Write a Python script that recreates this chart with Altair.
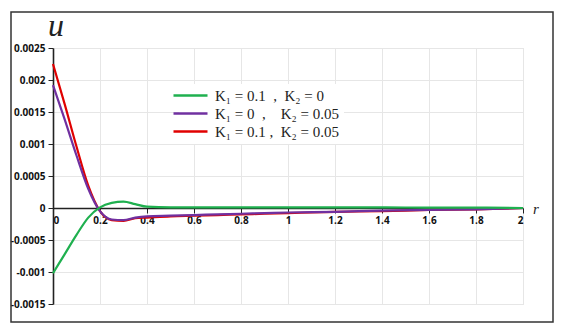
import altair as alt
import pandas as pd

r_vals = [0, 0.05, 0.1, 0.15, 0.2, 0.25, 0.3, 0.35, 0.4, 0.5, 0.6, 0.7, 0.8, 0.9, 1.0, 1.2, 1.4, 1.6, 1.8, 2.0]
u_green = [-0.00102, -0.00072, -0.00042, -0.00015, 0.00001, 0.00008, 0.0001, 0.00006, 0.00002, 0.00001,
           0.00001, 0.00001, 0.00001, 0.00001, 0.00001, 0.00001, 0.00001, 0.000005, 0.000005, 0.0]
u_purple = [0.00192, 0.00138, 0.00082, 0.0003, -0.00005, -0.00018, -0.00019, -0.00015, -0.00013, -0.00012,
            -0.00011, -0.0001, -0.00009, -0.00008, -0.00007, -0.00006, -0.00004, -0.00003, -0.00002, 0.0]
u_red = [0.00225, 0.00162, 0.00096, 0.00035, -0.00005, -0.00019, -0.0002, -0.00016, -0.00015, -0.00013,
         -0.00012, -0.00011, -0.0001, -0.00009, -0.00008, -0.00006, -0.00005, -0.00003, -0.00002, 0.0]

NB = "\u00a0"
labels = [f"K\u2081{NB}={NB}0.1{NB}{NB},{NB}{NB}K\u2082{NB}={NB}0",
          f"K\u2081{NB}={NB}0{NB}{NB},{NB}{NB}{NB}{NB}K\u2082{NB}={NB}0.05",
          f"{NB}K\u2081{NB}={NB}0.1{NB},{NB}{NB}K\u2082{NB}={NB}0.05"]
colors = ["#1fb04f", "#7030a0", "#e00000"]
x_ticks = [0, 0.2, 0.4, 0.6, 0.8, 1, 1.2, 1.4, 1.6, 1.8, 2]
y_ticks = [-0.0015, -0.001, -0.0005, 0, 0.0005, 0.001, 0.0015, 0.002, 0.0025]

rows = []
for lab, ys, order in [(labels[2], u_red, 0), (labels[1], u_purple, 1), (labels[0], u_green, 2)]:
    for rv, uv in zip(r_vals, ys):
        rows.append({"r": rv, "u": uv, "series": lab, "ord": order})
df = pd.DataFrame(rows)

W, H = 470, 256
label_font = "Open Sans"

lines = alt.Chart(df).mark_line(interpolate="monotone", strokeWidth=2.2).encode(
    x=alt.X("r:Q", scale=alt.Scale(domain=[0, 2], nice=False),
            axis=alt.Axis(values=x_ticks, title=None, offset=-96, labelFont=label_font,
                          labelFontWeight="bold", labelFontSize=10, labelColor="#111",
                          domainColor="#222", domainWidth=1.6, tickColor="#222", tickSize=5,
                          gridColor="#e6e6e6", labelPadding=2,
                          labelExpr="replace(format(datum.value, '~g'), '\u2212', '-')")),
    y=alt.Y("u:Q", scale=alt.Scale(domain=[-0.0015, 0.0025], nice=False),
            axis=alt.Axis(values=y_ticks, title=None, labelFont=label_font,
                          labelFontWeight="bold", labelFontSize=10, labelColor="#111",
                          domainColor="#222", domainWidth=1.6, tickColor="#222", tickSize=5,
                          gridColor="#e6e6e6", labelPadding=3,
                          labelExpr="replace(format(datum.value, '~g'), '\u2212', '-')")),
    color=alt.Color("series:N", scale=alt.Scale(domain=labels, range=colors),
                    legend=alt.Legend(title=None, orient="none", legendX=126, legendY=36,
                                      symbolType="M-3.4,0H3.4", symbolSize=100, symbolStrokeWidth=2.5,
                                      labelFont="Liberation Serif", labelFontSize=15,
                                      labelColor="#222", fillColor="white", padding=4,
                                      rowPadding=2, labelOffset=17, symbolOffset=0)),
    order=alt.Order("ord:Q"),
    detail="series:N",
)

frame = alt.Chart(pd.DataFrame({"a": [0]})).mark_rect(
    fill=None, stroke="#333", strokeWidth=1.5, clip=False
).encode(x=alt.value(-42), x2=alt.value(500), y=alt.value(-36), y2=alt.value(274))

u_title = alt.Chart(pd.DataFrame({"t": ["u"]})).mark_text(
    font="Liberation Serif", fontStyle="italic", fontSize=32, color="#222", baseline="alphabetic",
    align="center", clip=False
).encode(text="t:N", x=alt.value(3), y=alt.value(-12))

r_title = alt.Chart(pd.DataFrame({"t": ["r"]})).mark_text(
    font="Liberation Serif", fontStyle="italic", fontSize=15, color="#222", baseline="alphabetic",
    align="center", clip=False
).encode(text="t:N", x=alt.value(483), y=alt.value(166))

chart = alt.layer(frame, lines, u_title, r_title).properties(
    width=W, height=H,
    autosize=alt.AutoSizeParams(type="none"),
    padding={"left": 45, "top": 40, "right": 32, "bottom": 20},
).configure_view(stroke="#333", strokeWidth=1.5).configure(background="white")

chart.save("out.html", embed_options={"renderer": "svg", "actions": False})
